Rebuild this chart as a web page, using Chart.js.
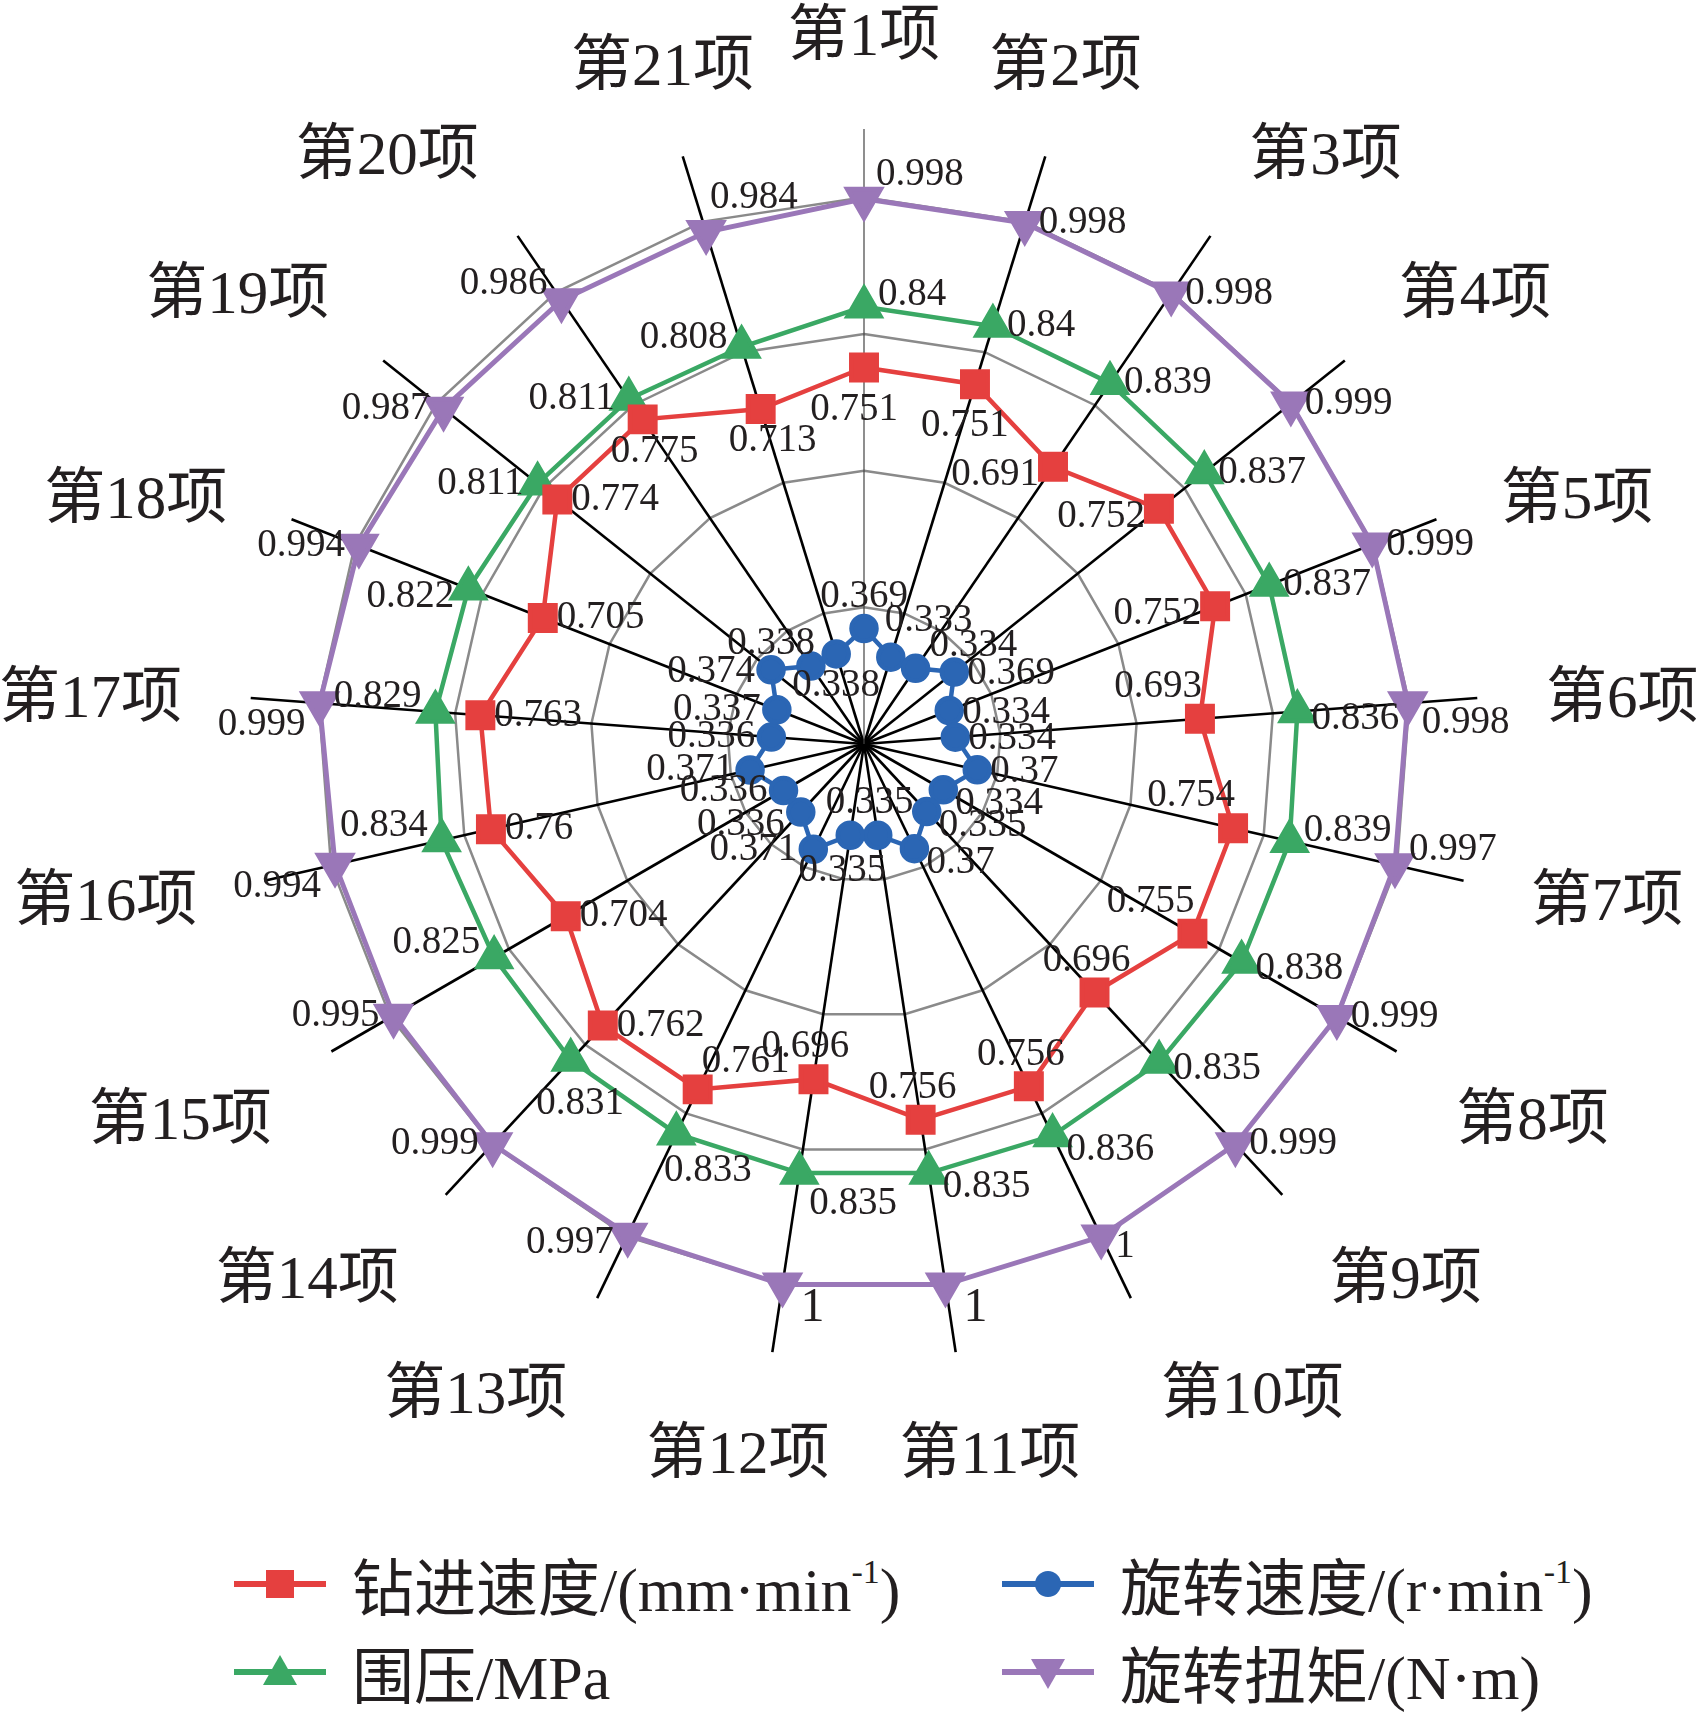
<!DOCTYPE html>
<html>
<head>
<meta charset="utf-8">
<script src="https://cdn.jsdelivr.net/npm/chart.js@4.4.1/dist/chart.umd.min.js"></script>
<style>
  body { margin: 0; background: #fff; }
  #wrap { position: relative; width: 1700px; height: 1718px; }
  #box { position: absolute; left: 0; top: 0; width: 1700px; height: 1482px; }
  .leg { position: absolute; display: flex; align-items: center; height: 80px;
         font-family: "Liberation Serif", "Noto Sans CJK SC"; font-size: 62px; color: #231f20; white-space: nowrap; }
  .leg svg { margin-right: 26px; }
  .leg sup { font-size: 34px; position: relative; top: -6px; }
</style>
</head>
<body>
<div id="wrap">
  <div id="box"><canvas id="radar"></canvas></div>
  <div id="legend"></div>
</div>
<script>
// categories and series
const items = ['第1项', '第2项', '第3项', '第4项', '第5项', '第6项', '第7项', '第8项', '第9项', '第10项', '第11项',
    '第12项', '第13项', '第14项', '第15项', '第16项', '第17项', '第18项', '第19项', '第20项', '第21项'];

const drillSpeed = [0.751, 0.751, 0.691, 0.752, 0.752, 0.693, 0.754, 0.755, 0.696, 0.756, 0.756,
    0.696, 0.761, 0.762, 0.704, 0.76, 0.763, 0.705, 0.774, 0.775, 0.713];
const rotSpeed = [0.369, 0.333, 0.334, 0.369, 0.334, 0.334, 0.37, 0.334, 0.335, 0.37, 0.335,
    0.335, 0.371, 0.336, 0.336, 0.371, 0.336, 0.337, 0.374, 0.338, 0.338];
const confining = [0.84, 0.84, 0.839, 0.837, 0.837, 0.836, 0.839, 0.838, 0.835, 0.836, 0.835,
    0.835, 0.833, 0.831, 0.825, 0.834, 0.829, 0.822, 0.811, 0.811, 0.808];
const torque = [0.998, 0.998, 0.998, 0.999, 0.999, 0.998, 0.997, 0.999, 0.999, 1, 1,
    1, 0.997, 0.999, 0.995, 0.994, 0.999, 0.994, 0.987, 0.986, 0.984];

const seriesNames = ['钻进速度/(mm·min-1)', '旋转速度/(r·min-1)', '围压/MPa', '旋转扭矩/(N·m)'];
const gridTicks = [0.4, 0.6, 0.8, 1.0];

const RED = '#e5403f', BLUE = '#2b66b4', GREEN = '#3aa864', PURPLE = '#9a77b8';
const FONT = '"Liberation Serif", "Noto Sans CJK SC"';

// where each value label goes relative to its marker, by series and angle
function redRule(a) {
    if (a < 25) return ['center', -10, 42];
    if (a > 315) return ['center', 12, 32];
    if (a < 75) return ['right', -14, 8];
    if (a < 130) return ['right', 2, -32];
    if (a < 200) return ['center', -8, -32];
    if (a < 215) return ['left', 4, -28];
    return ['left', 14, 0];
}
function purpleRule(a) {
    if (a === 0) return ['left', 12, -24];
    if (a < 160) return ['left', 14, a > 80 && a < 95 ? 20 : (a >= 95 && a < 110 ? -15 : (a > 150 ? 10 : 0))];
    if (a < 200) return ['left', 18, 24];
    if (a > 335) return ['left', 4, -34];
    if (a > 315) return ['right', -14, -16];
    if (a > 250 && a < 280) return ['right', -14, 22];
    return ['right', -14, a < 215 ? 8 : 0];
}
function greenRule(a) {
    if (a < 5) return ['left', 14, -12];
    if (a < 180) return ['left', 14, a > 90 && a < 110 ? -10 : (a > 150 ? 14 : (a > 80 ? 7 : 0))];
    if (a < 230) return ['center', (230 - a) * 1.3, 30 + (a - 188) * 0.4];
    if (a < 280) return ['right', -14, -15];
    if (a < 300) return ['right', -14, 8];
    if (a > 335) return ['right', -14, -9];
    return ['right', -14, 0];
}
function blueRule(a) {
    if (a === 0) return ['center', 0, -32];
    if (a < 25) return ['left', -6, -36];
    if (a < 45) return ['left', 14, -23];
    if (a < 110) return ['left', 13, 2];
    if (a < 165) return ['left', 12, 14];
    if (a < 180) return ['center', -8, -32];
    if (a < 200) return ['center', -8, 36];
    if (a < 305) return ['right', -16, a > 215 && a < 230 ? 13 : 0];
    if (a < 320) return ['right', -16, 2];
    if (a < 335) return ['right', 4, -22];
    return ['center', 0, 32];
}

const valueLabels = {
    id: 'valueLabels',
    afterDatasetsDraw(chart) {
        const ctx = chart.ctx;
        ctx.save();
        ctx.fillStyle = '#231f20';
        ctx.textBaseline = 'middle';
        chart.data.datasets.forEach((ds, di) => {
            const meta = chart.getDatasetMeta(di);
            meta.data.forEach((pt, i) => {
                const a = i * 360 / items.length;
                const [align, dx, dy] = ds.labelRule(a);
                const v = ds.data[i];
                ctx.font = (v === 1 && a > 160 && a < 200 ? '48px ' : '39px ') + FONT;
                ctx.textAlign = align;
                ctx.fillText(String(v), pt.x + dx, pt.y + dy);
            });
        });
        ctx.restore();
    }
};

// category labels placed by octant around the outer end of each spoke
const itemLabels = {
    id: 'itemLabels',
    afterDraw(chart) {
        const r = chart.scales.r;
        const ctx = chart.ctx;
        const h = 58;
        ctx.save();
        ctx.font = '61px ' + FONT;
        ctx.fillStyle = '#231f20';
        ctx.textBaseline = 'middle';
        items.forEach((txt, i) => {
            const a = i * 360 / items.length;
            const p = r.getPointPosition(i, r.drawingArea + 69);
            const oct = Math.round(a / 45) % 8;
            let dx = 0, dy = 8;
            ctx.textAlign = (oct === 0 || oct === 4) ? 'center' : (oct < 4 ? 'left' : 'right');
            if (oct === 0 || oct === 1 || oct === 7) dy -= h / 2;
            if (oct === 3 || oct === 4 || oct === 5) dy += h / 2;
            if (oct === 4) dx = Math.sign(Math.sin(a * Math.PI / 180)) * 24;
            ctx.fillText(txt, p.x + dx, p.y + dy);
        });
        ctx.restore();
    }
};

const ctx = document.getElementById('radar').getContext('2d');
new Chart(ctx, {
    type: 'radar',
    data: {
        labels: items,
        datasets: [
            { label: seriesNames[0], data: drillSpeed, borderColor: RED, backgroundColor: RED,
              borderWidth: 4.5, pointStyle: 'rect', pointRadius: 18, labelRule: redRule },
            { label: seriesNames[1], data: rotSpeed, borderColor: BLUE, backgroundColor: BLUE,
              borderWidth: 4.5, pointStyle: 'circle', pointRadius: 12.5, labelRule: blueRule },
            { label: seriesNames[2], data: confining, borderColor: GREEN, backgroundColor: GREEN,
              borderWidth: 4.5, pointStyle: 'triangle', pointRadius: 19, labelRule: greenRule },
            { label: seriesNames[3], data: torque, borderColor: PURPLE, backgroundColor: PURPLE,
              borderWidth: 5, pointStyle: 'triangle', pointRotation: 180, pointRadius: 19, labelRule: purpleRule }
        ]
    },
    options: {
        responsive: true,
        maintainAspectRatio: false,
        animation: false,
        layout: { padding: { top: 2, bottom: 2, left: 0, right: 0 } },
        elements: {
            line: { fill: false, tension: 0 },
            point: { borderWidth: 0, hoverRadius: 18 }
        },
        plugins: { legend: { display: false }, tooltip: { enabled: false } },
        scales: {
            r: {
                min: 0.2,
                max: 1.1,
                ticks: { display: false, stepSize: 0.2 },
                grid: {
                    color: c => gridTicks.some(t => Math.abs(t - c.tick.value) < 1e-6) ? '#8a8a8a' : 'rgba(0,0,0,0)',
                    lineWidth: 2.5
                },
                angleLines: {
                    color: c => c.index === 0 ? '#444' : '#000',
                    lineWidth: c => c.index === 0 ? 1.2 : 2.6
                },
                // kept for the layout fit only; the visible labels come from itemLabels
                pointLabels: {
                    font: { family: FONT, size: 56, lineHeight: 1 },
                    color: 'rgba(0,0,0,0)',
                    padding: 68
                }
            }
        }
    },
    plugins: [valueLabels, itemLabels]
});

// legend, two columns like the original
const legendSpec = [
    { name: '钻进速度/(mm·min<sup>-1</sup>)', color: RED, mark: 'square', x: 234, y: 1544 },
    { name: '旋转速度/(r·min<sup>-1</sup>)', color: BLUE, mark: 'circle', x: 1002, y: 1544 },
    { name: '围压/MPa', color: GREEN, mark: 'up', x: 234, y: 1632 },
    { name: '旋转扭矩/(N·m)', color: PURPLE, mark: 'down', x: 1002, y: 1632 }
];
function markSvg(color, mark) {
    let m = '';
    if (mark === 'square') m = `<rect x="32" y="6" width="28" height="28" fill="${color}"/>`;
    if (mark === 'circle') m = `<circle cx="46" cy="20" r="13" fill="${color}"/>`;
    if (mark === 'up') m = `<polygon points="46,3 63,33 29,33" fill="${color}"/>`;
    if (mark === 'down') m = `<polygon points="29,7 63,7 46,37" fill="${color}"/>`;
    return `<svg width="92" height="40"><line x1="0" y1="20" x2="92" y2="20" stroke="${color}" stroke-width="6"/>${m}</svg>`;
}
const legendEl = document.getElementById('legend');
legendSpec.forEach(it => {
    const d = document.createElement('div');
    d.className = 'leg';
    d.style.left = it.x + 'px';
    d.style.top = it.y + 'px';
    d.innerHTML = markSvg(it.color, it.mark) + '<span>' + it.name + '</span>';
    legendEl.appendChild(d);
});
</script>
</body>
</html>
